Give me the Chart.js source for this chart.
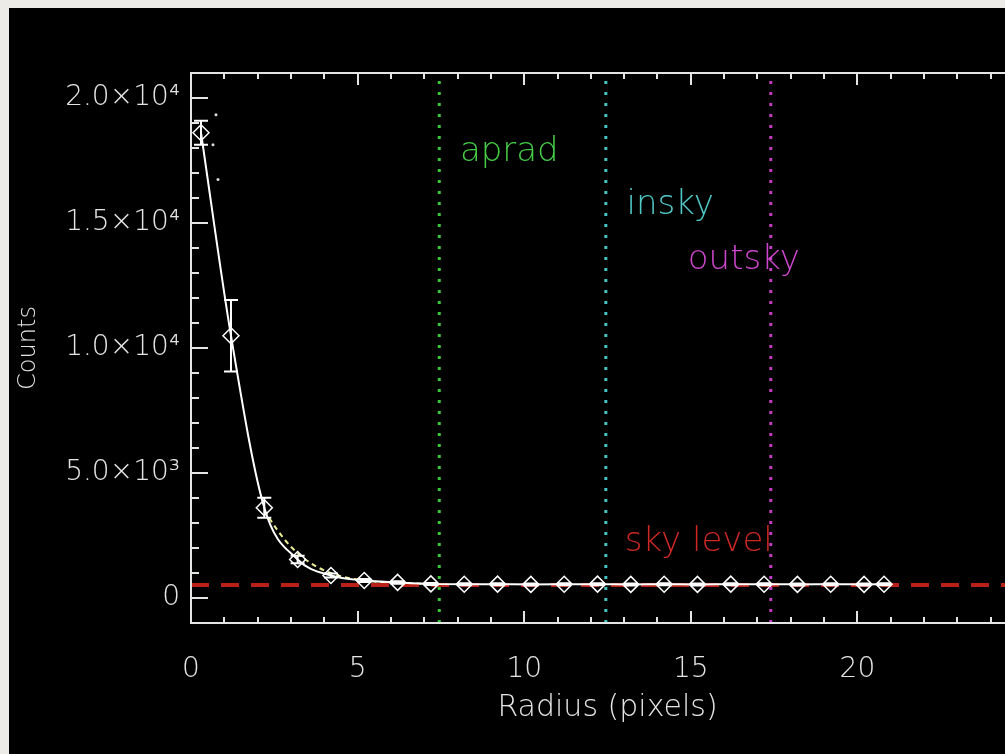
<!DOCTYPE html>
<html>
<head>
<meta charset="utf-8">
<script src="https://cdn.jsdelivr.net/npm/chart.js@4.4.1/dist/chart.umd.min.js"></script>
<style>
  html, body { margin: 0; padding: 0; width: 1005px; height: 754px; overflow: hidden; background: #ecebe8; }
  #frame { position: absolute; left: 9px; top: 8px; width: 1100px; height: 746px; background: #000; }
  canvas { display: block; }
</style>
</head>
<body>
<div id="frame"><canvas id="profile" width="1100" height="746"></canvas></div>
<script>
// Radial profile of the star: mean counts per annulus
const radius   = [0.3, 1.2, 2.2, 3.2, 4.2, 5.2, 6.2, 7.2, 8.2, 9.2, 10.2, 11.2, 12.2, 13.2, 14.2, 15.2, 16.2, 17.2, 18.2, 19.2, 20.2, 20.8];
const counts   = [18610, 10490, 3610, 1540, 900, 700, 625, 565, 550, 555, 545, 550, 555, 545, 550, 545, 555, 550, 545, 550, 545, 550];
const countErr = [480, 1430, 400, 150, 80, 60, 50, 40, 40, 40, 40, 40, 40, 40, 40, 40, 40, 40, 40, 40, 40, 40];

// Fitted profile (dashed)
const fitRadius = [2.2, 2.6, 3.0, 3.5, 4.0, 4.5, 5.0, 5.5, 6.0, 6.5, 7.0];
const fitCounts = [3500, 2700, 2050, 1480, 1100, 870, 740, 660, 610, 590, 570];

// Individual pixel samples near the centre
const sampleRadius = [0.66, 0.75, 0.81];
const sampleCounts = [18130, 19330, 16740];

// Photometry apertures and sky
const apRad = 7.45;
const inSky = 12.45;
const outSky = 17.4;
const skyLevel = 520;

// Axis ticks
const xTickValues = [0, 5, 10, 15, 20, 25];
const xTickLabels = ['0', '5', '10', '15', '20', '25'];
const yTickValues = [0, 5000, 10000, 15000, 20000];
const yTickLabels = ['0', '5.0\u00d710\u00b3', '1.0\u00d710\u2074', '1.5\u00d710\u2074', '2.0\u00d710\u2074'];

const X_MIN = 0, X_MAX = 25, Y_MIN = -1000, Y_MAX = 21000;
const FONT = '"DejaVu Sans", sans-serif';
const INK = '#e4e4e4';

const textLabels = [
  { text: 'aprad',     r: 8.07,  c: 17500, color: 'rgb(70,205,70)' },
  { text: 'insky',     r: 13.07, c: 15360, color: 'rgb(80,200,200)' },
  { text: 'outsky',    r: 14.91, c: 13170, color: 'rgb(205,70,205)' },
  { text: 'sky level', r: 13.02, c: 1900,  color: 'rgb(205,40,35)' }
];

// Frame around the plot with inward-pointing ticks on all four sides
const frameTicks = {
  id: 'frameTicks',
  afterDatasetsDraw(chart) {
    const { ctx, chartArea: a, scales: { x, y } } = chart;
    ctx.save();
    ctx.strokeStyle = INK;
    ctx.lineWidth = 2;
    ctx.strokeRect(a.left, a.top, a.right - a.left, a.bottom - a.top);
    ctx.beginPath();
    for (let v = X_MIN; v <= X_MAX + 1e-9; v += 1) {
      const px = Math.round(x.getPixelForValue(v));
      const len = v % 5 === 0 ? 12 : 6;
      ctx.moveTo(px, a.bottom); ctx.lineTo(px, a.bottom - len);
      ctx.moveTo(px, a.top); ctx.lineTo(px, a.top + len);
    }
    for (let v = Y_MIN; v <= Y_MAX + 1e-9; v += 1000) {
      const py = Math.round(y.getPixelForValue(v));
      const len = v % 5000 === 0 ? 17 : 8;
      ctx.moveTo(a.left, py); ctx.lineTo(a.left + len, py);
      ctx.moveTo(a.right, py); ctx.lineTo(a.right - len, py);
    }
    ctx.stroke();
    ctx.restore();
  }
};

// Error bars with caps on the profile points
const errorBars = {
  id: 'errorBars',
  afterDatasetsDraw(chart) {
    const { ctx, scales: { x, y } } = chart;
    ctx.save();
    ctx.strokeStyle = '#ffffff';
    ctx.lineWidth = 2;
    ctx.beginPath();
    radius.forEach((r, i) => {
      const px = x.getPixelForValue(r);
      const top = y.getPixelForValue(counts[i] + countErr[i]);
      const bot = y.getPixelForValue(counts[i] - countErr[i]);
      ctx.moveTo(px, top); ctx.lineTo(px, bot);
      ctx.moveTo(px - 7, top); ctx.lineTo(px + 7, top);
      ctx.moveTo(px - 7, bot); ctx.lineTo(px + 7, bot);
    });
    ctx.stroke();
    ctx.restore();
  }
};

// Coloured annotations placed in data coordinates
const annotations = {
  id: 'annotations',
  afterDatasetsDraw(chart) {
    const { ctx, scales: { x, y } } = chart;
    ctx.save();
    ctx.font = '200 34px ' + FONT;
    ctx.textAlign = 'left';
    ctx.textBaseline = 'alphabetic';
    textLabels.forEach(l => {
      ctx.fillStyle = l.color;
      ctx.fillText(l.text, x.getPixelForValue(l.r), y.getPixelForValue(l.c));
    });
    ctx.restore();
  }
};

const vline = (r, color) => ({
  data: [{ x: r, y: Y_MIN }, { x: r, y: Y_MAX }],
  showLine: true, borderColor: color, borderWidth: 3, borderDash: [3, 8],
  pointRadius: 0, fill: false
});

new Chart(document.getElementById('profile'), {
  type: 'scatter',
  data: {
    datasets: [
      vline(apRad, 'rgb(60,200,60)'),
      vline(inSky, 'rgb(70,195,195)'),
      vline(outSky, 'rgb(195,60,195)'),
      {
        data: radius.map((r, i) => ({ x: r, y: counts[i] })),
        showLine: true, borderColor: '#ffffff', borderWidth: 2,
        cubicInterpolationMode: 'monotone',
        pointStyle: 'rectRot', pointRadius: 8, pointBorderColor: '#ffffff',
        pointBorderWidth: 1.5, pointBackgroundColor: 'rgba(0,0,0,0)'
      },
      {
        data: [{ x: X_MIN, y: skyLevel }, { x: X_MAX, y: skyLevel }],
        showLine: true, borderColor: 'rgba(205,35,25,0.9)', borderWidth: 4,
        borderDash: [18, 12], pointRadius: 0
      },
      {
        data: fitRadius.map((r, i) => ({ x: r, y: fitCounts[i] })),
        showLine: true, borderColor: 'rgb(235,235,150)', borderWidth: 2,
        borderDash: [5, 4], pointRadius: 0, cubicInterpolationMode: 'monotone'
      },
      {
        data: sampleRadius.map((r, i) => ({ x: r, y: sampleCounts[i] })),
        showLine: false, pointRadius: 1.5, pointBorderWidth: 0,
        pointBackgroundColor: '#dddddd'
      }
    ]
  },
  options: {
    responsive: false,
    animation: false,
    devicePixelRatio: 1,
    clip: false,
    layout: { padding: { left: 0, top: 65, right: 85, bottom: 0 } },
    plugins: { legend: { display: false }, tooltip: { enabled: false } },
    scales: {
      x: {
        type: 'linear', min: X_MIN, max: X_MAX,
        grid: { display: false, drawTicks: false },
        border: { display: false },
        afterBuildTicks: s => { s.ticks = xTickValues.map(v => ({ value: v })); },
        afterFit: s => { s.height = 131; },
        ticks: {
          color: INK, padding: 30, maxRotation: 0, autoSkip: false,
          font: { family: FONT, size: 28, weight: '200' },
          callback: v => xTickLabels[xTickValues.indexOf(v)]
        },
        title: {
          display: true, text: 'Radius (pixels)', color: INK,
          font: { family: FONT, size: 30, weight: '200' },
          padding: { top: 0, bottom: 28 }
        }
      },
      y: {
        type: 'linear', min: Y_MIN, max: Y_MAX,
        grid: { display: false, drawTicks: false },
        border: { display: false },
        afterBuildTicks: s => { s.ticks = yTickValues.map(v => ({ value: v })); },
        afterFit: s => { s.width = 182; },
        ticks: {
          color: INK, padding: 11, autoSkip: false,
          font: { family: FONT, size: 28, weight: '200' },
          callback: v => yTickLabels[yTickValues.indexOf(v)]
        },
        title: {
          display: true, text: 'Counts', color: INK,
          font: { family: FONT, size: 24, weight: '200' },
          padding: { top: 5, bottom: 0 }
        }
      }
    }
  },
  plugins: [frameTicks, errorBars, annotations]
});
</script>
</body>
</html>
